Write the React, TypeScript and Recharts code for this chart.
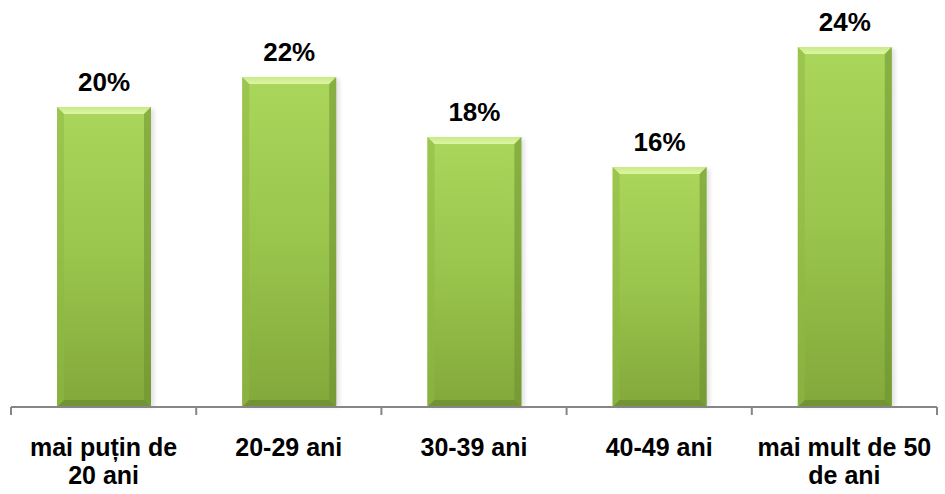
import React from "react";
import { BarChart, Bar, XAxis, YAxis, LabelList } from "recharts";

const categories = ["mai puțin de 20 ani", "20-29 ani", "30-39 ani", "40-49 ani", "mai mult de 50 de ani"];
const tickLines: string[][] = [["mai puțin de", "20 ani"], ["20-29 ani"], ["30-39 ani"], ["40-49 ani"], ["mai mult de 50", "de ani"]];
const values = [20, 22, 18, 16, 24];

const data = categories.map((c, i) => ({ name: c, value: values[i] }));

const CHART_W = 945;
const M_LEFT = 11;
const M_RIGHT = 8;
const BAND = (CHART_W - M_LEFT - M_RIGHT) / categories.length;

const BevelBar = (props: any) => {
  const { x, y, width, height } = props;
  if (!height || height <= 0) return null;
  const b = 7;
  const x2 = x + width;
  const y2 = y + height;
  return (
    <g>
      <rect x={x + 3} y={y + 2} width={width} height={height - 2} fill="#000" opacity={0.12} filter="url(#blurSh)" />
      <rect x={x} y={y} width={width} height={height} fill="url(#barGrad)" />
      <polygon points={`${x},${y} ${x2},${y} ${x2 - b},${y + b} ${x + b},${y + b}`} fill="url(#topGrad)" />
      <polygon points={`${x},${y} ${x + b},${y + b} ${x + b},${y2 - b} ${x},${y2}`} fill="#8fb843" opacity={0.55} />
      <polygon points={`${x2},${y} ${x2},${y2} ${x2 - b},${y2 - b} ${x2 - b},${y + b}`} fill="#6e8f2f" opacity={0.55} />
      <polygon points={`${x},${y2} ${x2},${y2} ${x2 - b},${y2 - b} ${x + b},${y2 - b}`} fill="#5f7d28" opacity={0.5} />
    </g>
  );
};

const Tick = (props: any) => {
  const { x, y, payload, index } = props;
  const i = payload.index ?? index;
  const lines = tickLines[i] || [payload.value];
  const axisY = y - 10;
  const half = BAND / 2;
  return (
    <g>
      <line x1={x - half} x2={x - half} y1={axisY} y2={axisY + 8} stroke="#868686" strokeWidth={2} />
      {i === categories.length - 1 && (
        <line x1={x + half} x2={x + half} y1={axisY} y2={axisY + 8} stroke="#868686" strokeWidth={2} />
      )}
      {lines.map((l, k) => (
        <text key={k} x={x} y={y + 39 + k * 28} textAnchor="middle" fontFamily="Liberation Sans, Arial, sans-serif" fontWeight="bold" fontSize={25} fill="#000">
          {l}
        </text>
      ))}
    </g>
  );
};

export default function App() {
  return (
    <div style={{ position: "absolute", left: 0, top: 0 }}>
      <BarChart width={CHART_W} height={494} data={data} margin={{ top: 47, right: M_RIGHT, bottom: 0, left: M_LEFT }} barSize={94}>
        <defs>
          <linearGradient id="barGrad" x1="0" y1="0" x2="0" y2="1">
            <stop offset="0%" stopColor="#aad65c" />
            <stop offset="50%" stopColor="#99c54c" />
            <stop offset="100%" stopColor="#82a83b" />
          </linearGradient>
          <linearGradient id="topGrad" x1="0" y1="0" x2="0" y2="1">
            <stop offset="0%" stopColor="#c8ea86" />
            <stop offset="100%" stopColor="#ddf5a4" />
          </linearGradient>
          <filter id="blurSh" x="-10%" y="-10%" width="130%" height="130%">
            <feGaussianBlur stdDeviation="2" />
          </filter>
        </defs>
        <XAxis
          dataKey="name"
          height={87}
          axisLine={{ stroke: "#868686", strokeWidth: 2 }}
          tickLine={false}
          tickSize={8}
          interval={0}
          tick={<Tick />}
        />
        <YAxis hide domain={[0, 24]} />
        <Bar dataKey="value" shape={<BevelBar />} isAnimationActive={false}>
          <LabelList
            dataKey="value"
            position="top"
            offset={16}
            formatter={(v: any) => `${v}%`}
            style={{ fontFamily: "Liberation Sans, Arial, sans-serif", fontWeight: "bold", fontSize: 26, fill: "#000" }}
          />
        </Bar>
      </BarChart>
    </div>
  );
}
